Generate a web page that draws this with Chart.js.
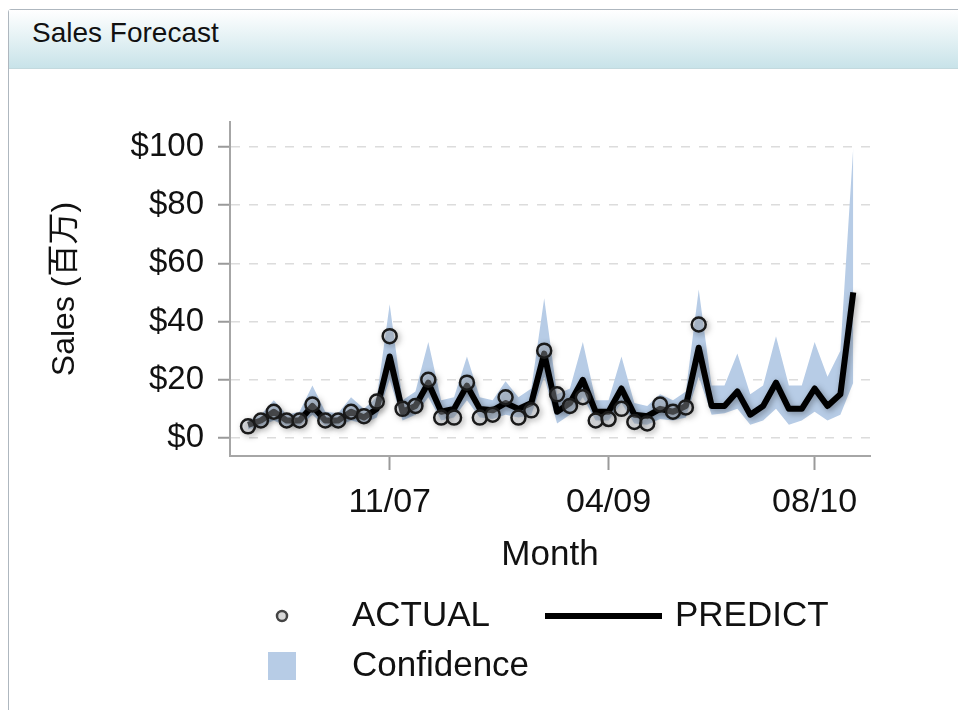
<!DOCTYPE html>
<html>
<head>
<meta charset="utf-8">
<title>Sales Forecast</title>
<script src="https://cdn.jsdelivr.net/npm/chart.js@4.4.0/dist/chart.umd.min.js"></script>
<style>
  html, body { margin: 0; padding: 0; background: #fff; }
  body { width: 958px; height: 710px; position: relative; overflow: hidden;
         font-family: "Liberation Sans", "Noto Sans CJK JP", sans-serif; }
  .panel { position: absolute; left: 8px; top: 9px; width: 960px; height: 710px;
           border: 1px solid #aeb7bf; border-radius: 3px 0 0 0; }
  .panel-head { height: 58px; background: linear-gradient(#ffffff, #c8e3e9);
                border-bottom: 1px solid #c3d9de; padding-left: 23px;
                line-height: 46px; font-size: 28px; color: #111; }
  #chart { position: absolute; left: 0; top: 0; }
</style>
</head>
<body>
<div class="panel"><div class="panel-head">Sales Forecast</div></div>
<canvas id="chart" width="958" height="710"></canvas>
<script>
// monthly series, 12/06 .. 11/10 (actuals stop at 11/09)
const months = [
  '12/06', '01/07', '02/07', '03/07', '04/07', '05/07', '06/07', '07/07', '08/07', '09/07', '10/07', '11/07',
  '12/07', '01/08', '02/08', '03/08', '04/08', '05/08', '06/08', '07/08', '08/08', '09/08', '10/08', '11/08',
  '12/08', '01/09', '02/09', '03/09', '04/09', '05/09', '06/09', '07/09', '08/09', '09/09', '10/09', '11/09',
  '12/09', '01/10', '02/10', '03/10', '04/10', '05/10', '06/10', '07/10', '08/10', '09/10', '10/10', '11/10'
];
const actual = [
  4, 6, 9, 6, 6, 11.5, 6, 6, 9, 7.5, 12.5, 35,
  10, 11, 20, 7, 7, 19, 7, 8, 14, 7, 9.5, 30,
  15, 11, 14, 6, 6.5, 10, 5.5, 5, 11.5, 9, 10.5, 39
];
const predict = [
  4.5, 6, 9, 6, 6, 11, 6, 6, 9, 7, 10, 28,
  9, 11, 19, 9, 10, 18, 10, 9.5, 12, 10, 12, 29,
  9, 12, 20, 9, 9, 17, 8, 7.5, 10, 9, 11, 31,
  11, 11, 16, 8, 11, 19, 10, 10, 17, 11, 15, 50
];
const upper = [
  6, 8, 13, 8, 9, 18, 9, 8.5, 14, 10, 14, 46,
  13, 16, 33, 13, 14, 28, 14, 13, 19.5, 14, 17, 48,
  15, 17, 33, 13, 13, 28, 12, 11, 15, 13, 16, 51,
  18, 18, 29, 15, 18, 35, 18, 18, 33, 21, 30, 100
];
const lower = [
  3, 4, 6, 4, 4, 8, 4, 4, 6, 5, 7, 20,
  6, 8, 14, 6, 7, 13, 7, 6.5, 8, 7, 8, 21,
  5, 8, 14, 6, 6, 12, 5, 4.5, 6.5, 6, 7, 21,
  8, 8.5, 10, 4.5, 6, 10, 4.5, 6, 9, 6, 8, 19
];
const yTicks = [0, 20, 40, 60, 80, 100];
const xTickMonths = ['11/07', '04/09', '08/10'];

const FONT = '"Liberation Sans", "Noto Sans CJK JP", sans-serif';
const BAND = 'rgb(183, 204, 230)';
const points = arr => arr.map((v, i) => ({ x: i, y: v }));

// soft drop shadow under the forecast line and the actual markers
const shadowPlugin = {
  id: 'lineShadow',
  beforeDatasetDraw(chart, args) {
    const ds = chart.data.datasets[args.index];
    if (ds.label !== 'PREDICT' && ds.label !== 'ACTUAL') return;
    const ctx = chart.ctx;
    ctx.save();
    ctx.shadowColor = 'rgba(0, 0, 0, 0.35)';
    ctx.shadowBlur = 6;
    ctx.shadowOffsetX = 2;
    ctx.shadowOffsetY = 2;
  },
  afterDatasetDraw(chart, args) {
    const ds = chart.data.datasets[args.index];
    if (ds.label !== 'PREDICT' && ds.label !== 'ACTUAL') return;
    chart.ctx.restore();
  }
};

// two-column legend under the x axis
const gridLegend = {
  id: 'gridLegend',
  afterDraw(chart) {
    const { ctx, chartArea } = chart;
    const byLabel = l => chart.data.datasets.find(d => d.label === l);
    const act = byLabel('ACTUAL'), pred = byLabel('PREDICT'), band = byLabel('Confidence');
    const row1 = chartArea.bottom + 160, row2 = row1 + 50;
    const c1 = chartArea.left + 52, t1 = chartArea.left + 122;
    const c2 = chartArea.left + 315, t2 = chartArea.left + 445;
    ctx.save();
    ctx.font = '35px ' + FONT;
    ctx.fillStyle = '#111';
    ctx.textBaseline = 'middle';

    ctx.beginPath();
    ctx.arc(c1, row1, 5, 0, Math.PI * 2);
    ctx.fillStyle = '#d8d8d8';
    ctx.fill();
    ctx.lineWidth = 2.5;
    ctx.strokeStyle = '#444';
    ctx.stroke();
    ctx.fillStyle = '#111';
    ctx.fillText(act.label, t1, row1);

    ctx.beginPath();
    ctx.moveTo(c2, row1);
    ctx.lineTo(c2 + 117, row1);
    ctx.lineWidth = pred.borderWidth;
    ctx.strokeStyle = pred.borderColor;
    ctx.stroke();
    ctx.fillText(pred.label, t2, row1);

    ctx.fillStyle = band.backgroundColor;
    ctx.fillRect(c1 - 14, row2 - 14, 28, 28);
    ctx.fillStyle = '#111';
    ctx.fillText(band.label, t1, row2);
    ctx.restore();
  }
};

new Chart(document.getElementById('chart'), {
  type: 'line',
  data: {
    datasets: [
      {
        label: 'ACTUAL',
        data: points(actual),
        showLine: false,
        pointRadius: 7,
        pointBorderWidth: 2.5,
        pointBorderColor: '#1a1a1a',
        pointBackgroundColor: 'rgba(215, 222, 230, 0.35)',
        order: 1
      },
      {
        label: 'PREDICT',
        data: points(predict),
        borderColor: '#000',
        borderWidth: 6,
        pointRadius: 0,
        tension: 0,
        borderJoinStyle: 'round',
        order: 2
      },
      {
        label: 'Confidence',
        data: points(upper),
        borderWidth: 0,
        pointRadius: 0,
        backgroundColor: BAND,
        fill: '+1',
        tension: 0,
        order: 3
      },
      {
        label: 'lower',
        data: points(lower),
        borderWidth: 0,
        pointRadius: 0,
        fill: false,
        tension: 0,
        order: 4
      }
    ]
  },
  options: {
    responsive: false,
    animation: false,
    layout: { padding: { top: 122, right: 88, bottom: 114, left: 0 } },
    scales: {
      x: {
        type: 'linear',
        min: -1.4,
        max: 48.3,
        afterBuildTicks: s => { s.ticks = xTickMonths.map(m => ({ value: months.indexOf(m) })); },
        afterFit: s => { s.height = 140; },
        ticks: {
          callback: v => months[v],
          font: { size: 34, family: FONT },
          color: '#111',
          padding: 12,
          maxRotation: 0,
          autoSkip: false
        },
        grid: { drawOnChartArea: false, tickLength: 14, tickColor: '#9a9a9a', tickWidth: 2 },
        border: { color: '#a6a6a6', width: 2 },
        title: { display: true, text: 'Month', font: { size: 35, family: FONT }, color: '#111', padding: { bottom: 20 } }
      },
      y: {
        min: -6.2,
        max: 108.6,
        afterBuildTicks: s => { s.ticks = yTicks.map(v => ({ value: v })); },
        afterFit: s => { s.width = 230; },
        ticks: {
          callback: v => '$' + v,
          font: { size: 33, family: FONT },
          color: '#111',
          padding: 14
        },
        grid: { color: '#dcdcdc', lineWidth: 1.5, tickColor: '#9a9a9a', tickLength: 12, tickWidth: 2 },
        border: { color: '#a6a6a6', width: 2, dash: [9, 9] },
        title: { display: true, text: 'Sales (百万)', font: { size: 32, family: FONT }, color: '#111', padding: { top: 46 } }
      }
    },
    plugins: {
      legend: { display: false },
      tooltip: { enabled: false }
    }
  },
  plugins: [shadowPlugin, gridLegend]
});
</script>
</body>
</html>
